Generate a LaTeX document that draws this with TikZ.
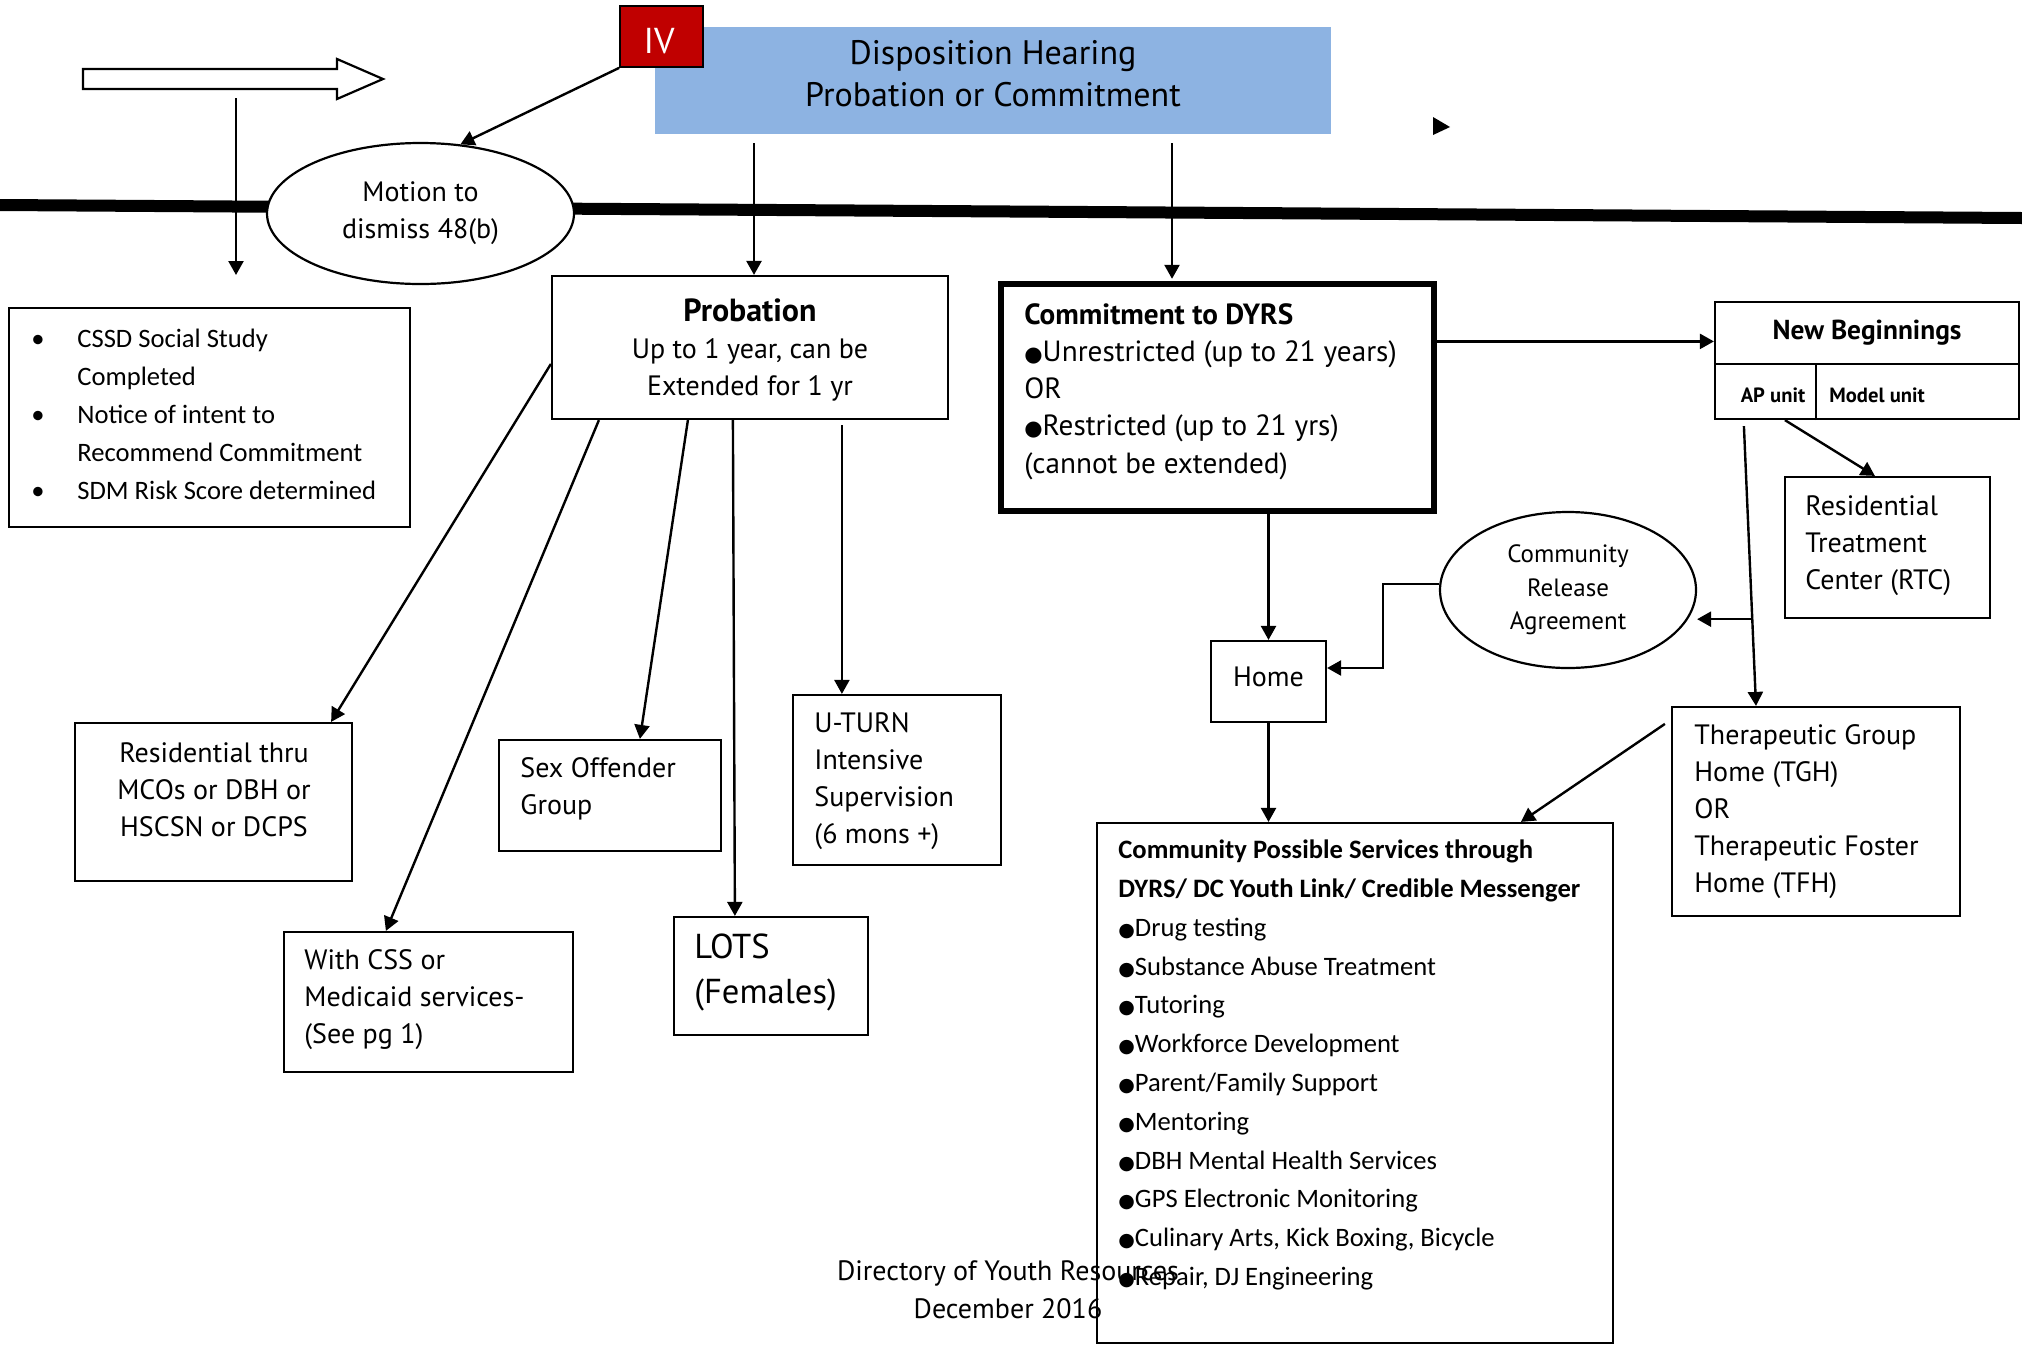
\documentclass[tikz,border=0pt]{standalone}
\usepackage{fontspec}
\setmainfont{PT Sans}
\newfontfamily\calib{Carlito}
\newfontfamily\symf{DejaVu Sans}
\usetikzlibrary{arrows.meta,shapes.geometric,calc}
\newcommand\bul{{\symf\fontsize{10.5}{0}\selectfont ●}}
\newcommand\cbul{{\symf\fontsize{9.5}{0}\selectfont ●}}
\begin{document}
\begin{tikzpicture}[x=0.5pt,y=-0.5pt,
  box/.style={draw, line width=1.1pt, fill=white, inner sep=0pt},
  arr/.style={line width=1.2pt, -{Triangle[length=7pt,width=7.5pt]}},
  txt/.style={inner sep=0pt, align=left, font=\fontsize{14}{18.5}\selectfont},
  ctxt/.style={inner sep=0pt, align=center, font=\fontsize{14}{18.5}\selectfont},
]
\fill[white] (0,0) rectangle (2022,1345);
\useasboundingbox (0,0) rectangle (2022,1345);

% thick time line
\draw[line width=6pt] (0,205) -- (2022,218);

% header
\node[fill={rgb,255:red,141;green,179;blue,226}, minimum width=338pt, minimum height=53.5pt, inner sep=0pt] (hear) at (993,80.5) {};
\node[ctxt, font=\fontsize{17}{21}\selectfont] (heart) at (993,74) {Disposition Hearing\\Probation or Commitment};
\node[draw, line width=0.9pt, fill={rgb,255:red,192;green,0;blue,0}, minimum width=41.5pt, minimum height=30.5pt, inner sep=0pt] (iv) at (661.5,36.5) {};
\node[inner sep=0pt, text=white, font=\fontsize{18}{18}\selectfont] (ivt) at (659,41) {IV};

% hollow arrow
\draw[line width=1.1pt, fill=white] (83,69) -- (337,69) -- (337,59) -- (383,79) -- (337,99) -- (337,89) -- (83,89) -- cycle;
\coordinate (va) at (236,98);
\coordinate (vb) at (236,275);
\draw[arr] (va) -- (vb);

% stray arrow head
\fill (1433,117) -- (1450,127) -- (1433,135) -- cycle;

% motion
\node[ellipse, draw, line width=1.1pt, fill=white, minimum width=153.5pt, minimum height=70.5pt, inner sep=0pt, align=center, font=\fontsize{14}{18.5}\selectfont] (motion) at (420.5,213.5) {Motion to\\dismiss 48(b)};
\draw[arr] (iv.south west) -- (motion.60);

% requirements box
\node[box, minimum width=200.5pt, minimum height=109.5pt] (req) at (209.5,417.5) {};
\node[txt, anchor=west, font=\calib\fontsize{13.3}{19}\selectfont] (reqt) at (77,414) {\llap{\makebox[23pt][l]{•}}CSSD Social Study\\Completed\\\llap{\makebox[23pt][l]{•}}Notice of intent to\\Recommend Commitment\\\llap{\makebox[23pt][l]{•}}SDM Risk Score determined};

% probation
\node[box, minimum width=198pt, minimum height=71.5pt] (prob) at (750,347.5) {};
\node[ctxt] (probt) at (750,350) {{\bfseries\fontsize{16}{20}\selectfont Probation}\\Up to 1 year, can be\\Extended for 1 yr};

% commitment
\node[draw, line width=2.6pt, fill=white, inner sep=0pt, minimum width=216.5pt, minimum height=113.5pt] (commit) at (1217.5,397.5) {};
\node[txt, anchor=west, font=\fontsize{14.6}{18.6}\selectfont] (committ) at (1024,391.5) {{\bfseries Commitment to DYRS}\\\bul Unrestricted (up to 21 years)\\OR\\\bul Restricted (up to 21 yrs)\\(cannot be extended)};

\draw[arr] ([xshift=-119.5pt,yshift=-4.5pt]hear.south) coordinate (s1) -- (s1 |- prob.north);
\draw[arr, shorten >=1.3pt] ([xshift=89.5pt,yshift=-4.5pt]hear.south) coordinate (s2) -- (s2 |- commit.north);

% probation children
\node[box, minimum width=138.5pt, minimum height=79pt] (resid) at (213.5,802) {};
\node[ctxt] (residt) at (214,790) {Residential thru\\MCOs or DBH or\\HSCSN or DCPS};
\node[box, minimum width=144.5pt, minimum height=70pt] (css) at (428.5,1002) {};
\node[txt, anchor=west] (csst) at (304,999.5) {With CSS or\\Medicaid services-\\(See pg 1)};
\node[box, minimum width=111pt, minimum height=55.5pt] (sex) at (610,795.5) {};
\node[txt, anchor=west] (sext) at (520,788.5) {Sex Offender\\Group};
\node[box, minimum width=97pt, minimum height=59pt] (lots) at (771,976) {};
\node[txt, anchor=west, font=\fontsize{17.3}{22.5}\selectfont] (lotst) at (694,972.5) {LOTS\\(Females)};
\node[box, minimum width=104pt, minimum height=85pt] (uturn) at (897,780) {};
\node[txt, anchor=west] (uturnt) at (814,781.5) {U-TURN\\Intensive\\Supervision\\(6 mons +)};

\draw[arr] ([yshift=-44.5pt]prob.north west) -- ([xshift=-11pt]resid.north east);
\draw[arr] ([xshift=24pt]prob.south west) -- ([xshift=51.5pt]css.north west);
\draw[arr] ([xshift=68.5pt]prob.south west) -- ([xshift=71pt]sex.north west);
\draw[arr] ([xshift=91pt]prob.south west) -- ([xshift=31pt]lots.north west);
\draw[arr] ([xshift=145.5pt,yshift=-2.5pt]prob.south west) coordinate (s3) -- (s3 |- uturn.north);

% new beginnings
\node[box, minimum width=152pt, minimum height=58.5pt] (nb) at (1867,360.5) {};
\draw[line width=1.1pt] ([yshift=-31.5pt]nb.north west) coordinate (d1) -- (d1 -| nb.east);
\draw[line width=1.1pt] ([xshift=51pt]nb.south west) coordinate (d2) -- (d2 |- d1);
\node[inner sep=0pt, font=\bfseries\fontsize{13.7}{16}\selectfont] (nbt) at (1867,333) {New Beginnings};
\node[inner sep=0pt, font=\bfseries\fontsize{10.3}{12}\selectfont] (nbap) at (1773,395) {AP unit};
\node[inner sep=0pt, anchor=west, font=\bfseries\fontsize{10.3}{12}\selectfont] (nbmod) at (1829,395) {Model unit};
\draw[arr] ([yshift=-30pt]commit.north east) coordinate (c1) -- (c1 -| nb.west);

% RTC
\node[box, minimum width=102.5pt, minimum height=70.5pt] (rtc) at (1887.5,547.5) {};
\node[txt, anchor=west] (rtct) at (1805,546) {Residential\\Treatment\\Center (RTC)};
\draw[arr] ([xshift=35.5pt]nb.south west) -- ([xshift=45.5pt]rtc.north west);

% TGH
\node[box, minimum width=144pt, minimum height=104.5pt] (tgh) at (1816,811.5) {};
\node[txt, anchor=west] (tght) at (1694,812) {Therapeutic Group\\Home (TGH)\\OR\\Therapeutic Foster\\Home (TFH)};

% community release agreement
\node[ellipse, draw, line width=1.1pt, fill=white, minimum width=128pt, minimum height=78pt, inner sep=0pt, align=center, font=\fontsize{12.5}{16.75}\selectfont] (cra) at (1568,590) {Community\\Release\\Agreement};

\draw[arr] ([xshift=15pt,yshift=-3pt]nb.south west) coordinate (t1) -- ([xshift=-30pt]tgh.north) coordinate (t2);
\draw[arr] ($(t1)!0.69!(t2)$) coordinate (t3) -- (t3 -| cra.east);

% home
\node[box, minimum width=57.5pt, minimum height=40.5pt, font=\fontsize{14}{18.5}\selectfont] (home) at (1268.5,681.5) {\raisebox{5pt}{Home}};
\draw[arr] (commit.south -| home.north) -- (home.north);
\draw[arr] ([yshift=3pt]cra.west) -- ++(-56,0) |- ([yshift=6.75pt]home.east);

% community possible services
\node[box, minimum width=258pt, minimum height=260pt] (cps) at (1355,1083) {};
\node[txt, anchor=west, font=\calib\fontsize{13.3}{19.4}\selectfont] (cpst) at (1118,1065) {{\bfseries Community Possible Services through}\\{\bfseries DYRS/ DC Youth Link/ Credible Messenger}\\\cbul Drug testing\\\cbul Substance Abuse Treatment\\\cbul Tutoring\\\cbul Workforce Development\\\cbul Parent/Family Support\\\cbul Mentoring\\\cbul DBH Mental Health Services\\\cbul GPS Electronic Monitoring\\\cbul Culinary Arts, Kick Boxing, Bicycle\\\cbul Repair, DJ Engineering};
\draw[arr] (home.south) -- (home.south |- cps.north);
\draw[arr] ([xshift=-3pt,yshift=-9pt]tgh.north west) -- ([xshift=212.5pt]cps.north west);

% footer
\node[ctxt, font=\fontsize{14}{19}\selectfont] (foot) at (1008,1290) {Directory of Youth Resources\\December 2016};
\end{tikzpicture}
\end{document}
